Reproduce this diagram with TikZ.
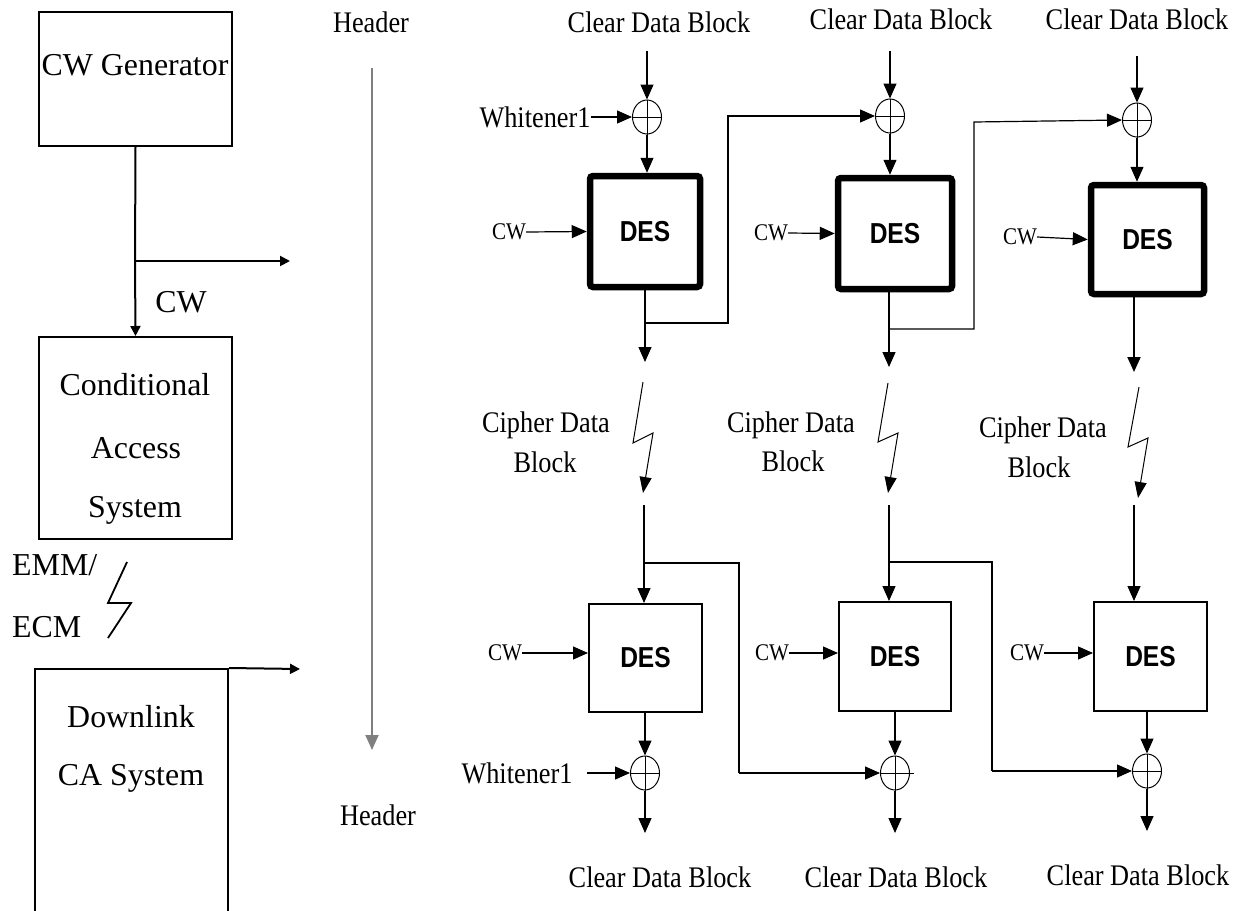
\documentclass[tikz,border=0pt]{standalone}
\usepackage{fontspec}
\setmainfont{Liberation Serif}
\newfontfamily\condfont[FakeStretch=0.88]{Liberation Serif}
\newfontfamily\desfont[FakeStretch=0.85]{Liberation Sans}
\usetikzlibrary{arrows.meta,shapes.geometric}
\tikzset{
  lbl/.style={inner sep=0pt, font=\fontsize{32}{38}\selectfont},
  clbl/.style={inner sep=0pt, font=\condfont\fontsize{30}{35}\selectfont},
  cwlbl/.style={inner sep=0pt, font=\condfont\fontsize{24}{28}\selectfont},
  sysbox/.style={draw, line width=2bp, inner sep=0pt},
  desthick/.style={draw, line width=6.5bp, rounded corners=3bp, inner sep=0pt,
    font=\desfont\bfseries\fontsize{29}{32}\selectfont},
  desthin/.style={draw, line width=2bp, inner sep=0pt,
    font=\desfont\bfseries\fontsize{29}{32}\selectfont},
  xor/.style={draw, ellipse, minimum width=29bp, minimum height=34bp, inner sep=0pt, line width=1bp},
  conn/.style={line width=1.2bp},
  arr/.style={line width=1.2bp, -{Triangle[length=15bp,width=13bp]}},
  sarr/.style={line width=2bp, -{Triangle[length=10bp,width=10bp]}},
  hdrarr/.style={line width=2bp, draw=gray, -{Triangle[length=15bp,width=13bp]}},
  boltarr/.style={line width=1bp, -{Triangle[length=16bp,width=12bp]}}
}
\begin{document}
\begin{tikzpicture}[x=1bp,y=-1bp]
\useasboundingbox (0,0) rectangle (1238,911);

% ---------- left column ----------
\node[sysbox, minimum width=193bp, minimum height=134bp] (cwgen) at (135.5,79) {};
\node[lbl] (cwgent) at (135,65) {CW Generator};
\node[sysbox, minimum width=193bp, minimum height=202bp] (cas) at (135.5,438) {};
\node[lbl] (cas1) at (135,385) {Conditional};
\node[lbl] (cas2) at (136,448) {Access};
\node[lbl] (cas3) at (135,510) {System};
\node[sysbox, minimum width=193bp, minimum height=250bp] (dl) at (131.5,794) {};
\node[lbl] (dl1) at (131,717) {Downlink};
\node[lbl] (dl2) at (131,778) {CA System};

\coordinate (cwj) at (135,261);
\coordinate (cwo) at (290,261);
\draw[line width=2bp] (cwgen.south) -- (cwj);
\draw[sarr] (cwj) -- (cas.north);
\draw[sarr] (cwj) -- (cwo);
\node[lbl] (cwl) at (181,302) {CW};

\node[lbl, anchor=west] (emm) at (12,565) {EMM/};
\node[lbl, anchor=west] (ecm) at (12,627) {ECM};
\draw[line width=1.8bp] (127,562) -- (108,603) -- (131,603) -- (108,638);

\coordinate (dlo) at (300,669);
\draw[sarr] (dl.north east) -- (dlo);

% ---------- header ----------
\node[clbl] (h1) at (371,22) {Header};
\node[clbl] (h2) at (378,815) {Header};
\coordinate (hs) at (372,68);
\coordinate (he) at (372,750);
\draw[hdrarr] (hs) -- (he);

% ---------- top row (encryption) ----------
\node[clbl] (cdb1) at (659,22) {Clear Data Block};
\node[clbl] (cdb2) at (901,19) {Clear Data Block};
\node[clbl] (cdb3) at (1137,19) {Clear Data Block};

\node[xor] (x1) at (647,117) {};
\node[xor] (x2) at (890,116) {};
\node[xor] (x3) at (1137,120) {};
\foreach \n in {x1,x2,x3}{\draw[line width=1bp] (\n.north) -- (\n.south) (\n.west) -- (\n.east);}

\coordinate (s1) at (647,51);
\coordinate (s2) at (890,51);
\coordinate (s3) at (1137,56);
\draw[arr] (s1) -- (x1.north);
\draw[arr] (s2) -- (x2.north);
\draw[arr] (s3) -- (x3.north);

\node[clbl] (w1) at (535,117) {Whitener1};
\draw[arr] (w1.east) -- (x1.west);

\node[desthick, minimum width=110bp, minimum height=111bp] (d1) at (645,231.5) {DES};
\node[desthick, minimum width=114bp, minimum height=111bp] (d2) at (895,233.5) {DES};
\node[desthick, minimum width=113bp, minimum height=109bp] (d3) at (1147.5,239.5) {DES};

\draw[arr] (x1.south) -- (x1 |- d1.north);
\draw[arr] (x2.south) -- (x2 |- d2.north);
\draw[arr] (x3.south) -- (x3 |- d3.north);

\node[cwlbl] (cw1) at (509,232) {CW};
\node[cwlbl] (cw2) at (771,233) {CW};
\node[cwlbl] (cw3) at (1020,237) {CW};
\draw[arr] (cw1.east) -- (d1.west);
\draw[arr] (cw2.east) -- (d2.west);
\draw[arr] (cw3.east) -- (d3.west);

\coordinate (t1) at (645,362);
\coordinate (t2) at (889,367);
\coordinate (t3) at (1134,372);
\coordinate (j1) at (645,323);
\coordinate (j2) at (889,329);
\coordinate (r1) at (728,116);
\coordinate (r2) at (974,122);
\draw[arr] (d1.south) -- (t1);
\draw[arr] (t2 |- d2.south) -- (t2);
\draw[line width=2bp, -{Triangle[length=15bp,width=13bp]}] (t3 |- d3.south) -- (t3);
\draw[arr] (j1) -| (r1) -- (x2.west);
\draw[arr] (j2) -| (r2) -- (x3.west);

% ---------- transmission ----------
\draw[boltarr] (643,382) -- (633,443) -- (653,433) -- (643,493);
\draw[boltarr] (888,383) -- (878,442) -- (898,433) -- (888,493);
\draw[boltarr] (1139,387) -- (1128,447) -- (1148,438) -- (1138,498);

\node[clbl] (cd1a) at (546,425) {Cipher Data};
\node[clbl] (cd1b) at (545,462) {Block};
\node[clbl] (cd2a) at (791,425) {Cipher Data};
\node[clbl] (cd2b) at (793,461) {Block};
\node[clbl] (cd3a) at (1043,430) {Cipher Data};
\node[clbl] (cd3b) at (1039,467) {Block};

% ---------- bottom row (decryption) ----------
\node[desthin, minimum width=113bp, minimum height=108bp] (d4) at (645.5,658) {DES};
\node[desthin, minimum width=112bp, minimum height=109bp] (d5) at (895,656.5) {DES};
\node[desthin, minimum width=113bp, minimum height=109bp] (d6) at (1150.5,656.5) {DES};

\coordinate (u1) at (644,505);
\coordinate (u2) at (889,505);
\coordinate (u3) at (1134,505);
\draw[arr] (u1) -- (u1 |- d4.north);
\draw[arr] (u2) -- (u2 |- d5.north);
\draw[arr] (u3) -- (u3 |- d6.north);

\node[cwlbl] (cw4) at (505,653) {CW};
\node[cwlbl] (cw5) at (772,653) {CW};
\node[cwlbl] (cw6) at (1027,653) {CW};
\draw[arr] (cw4.east) -- (cw4.east -| d4.west);
\draw[arr] (cw5.east) -- (cw5.east -| d5.west);
\draw[arr] (cw6.east) -- (cw6.east -| d6.west);

\node[xor] (x4) at (645,773) {};
\node[xor] (x5) at (895,773) {};
\node[xor] (x6) at (1147,771) {};
\draw[line width=1bp] (x4.north) -- (x4.south) (x4.west) -- (x4.east);
\draw[line width=1bp] (x5.north) -- (x5.south) (x5.west) -- ([xshift=4bp]x5.east);
\draw[line width=1bp] (x6.north) -- (x6.south) (x6.west) -- (x6.east);

\draw[arr] (x4 |- d4.south) -- (x4.north);
\draw[arr] (x5 |- d5.south) -- (x5.north);
\draw[arr] (x6 |- d6.south) -- (x6.north);

\node[clbl] (w2) at (517,773) {Whitener1};
\coordinate (w2s) at (587,773);
\draw[arr] (w2s) -- (x4.west);

\coordinate (j4) at (644,563);
\coordinate (j5) at (889,562);
\coordinate (r4) at (739,773);
\coordinate (r5) at (992,771);
\draw[conn] (j4) -| (r4);
\draw[arr] (r4) -- (x5.west);
\draw[conn] (j5) -| (r5);
\draw[arr] (r5) -- (x6.west);

\coordinate (b4) at (645,833);
\coordinate (b5) at (895,833);
\coordinate (b6) at (1147,831);
\draw[arr] (x4.south) -- (b4);
\draw[arr] (x5.south) -- (b5);
\draw[arr] (x6.south) -- (b6);

\node[clbl] (cdb4) at (660,877) {Clear Data Block};
\node[clbl] (cdb5) at (896,877) {Clear Data Block};
\node[clbl] (cdb6) at (1138,875) {Clear Data Block};
\end{tikzpicture}
\end{document}
